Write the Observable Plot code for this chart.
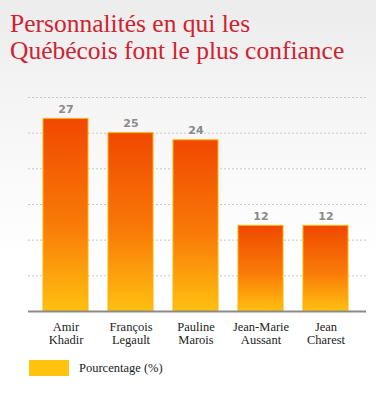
<!DOCTYPE html>
<html>
<head>
<meta charset="utf-8">
<script src="https://cdn.jsdelivr.net/npm/d3@7"></script>
<script src="https://cdn.jsdelivr.net/npm/@observablehq/plot@0.6"></script>
<style>
  html, body { margin: 0; padding: 0; }
  body { width: 376px; height: 404px; position: relative; overflow: hidden;
         background: linear-gradient(to bottom, #ececec 0px, #f6f6f6 120px, #ffffff 260px, #ffffff 404px); }
  #title { position: absolute; left: 10px; top: 10px; margin: 0;
           font-family: "Liberation Serif", serif; font-size: 25.5px; line-height: 27px;
           color: #cf2230; font-weight: normal; }
  #chart { position: absolute; left: 0; top: 70px; }
  #legend { position: absolute; left: 29px; top: 360px; display: flex; align-items: center;
            font-family: "Liberation Serif", serif; font-size: 12.5px; color: #222; }
  #legend .sw { width: 40px; height: 16px; background: #ffc20e; margin-right: 10px; }
</style>
</head>
<body>
<div id="title">Personnalités en qui les<br>Québécois font le plus confiance</div>
<div id="chart"></div>
<div id="legend"><div class="sw"></div><span>Pourcentage (%)</span></div>
<script>
const names = ["Amir Khadir", "François Legault", "Pauline Marois", "Jean-Marie Aussant", "Jean Charest"];
const labels = ["Amir\nKhadir", "François\nLegault", "Pauline\nMarois", "Jean-Marie\nAussant", "Jean\nCharest"];
const values = [27, 25, 24, 12, 12];
const gridTicks = [5, 10, 15, 20, 25, 30];

const data = names.map((n, i) => ({name: n, label: labels[i], value: values[i]}));

const chart = Plot.plot({
  width: 376,
  height: 290,
  marginTop: 27,
  marginBottom: 49,
  marginLeft: 28,
  marginRight: 10,
  style: {background: "transparent", overflow: "visible"},
  x: {domain: names, range: [42, 348], paddingInner: 0.31, paddingOuter: 0, axis: null},
  y: {domain: [0, 30], axis: null},
  marks: [
    Plot.ruleY(gridTicks, {stroke: "#c8c8c8", strokeDasharray: "2,2", strokeWidth: 1}),
    Plot.barY(data, {x: "name", y: "value", fill: "url(#barGrad)", stroke: "#ffb300", strokeWidth: 1}),
    Plot.ruleY([0], {stroke: "#8a8a8a", strokeWidth: 2}),
    Plot.text(data, {x: "name", y: "value", text: d => String(d.value), lineAnchor: "bottom", dy: -6,
      fill: "#8a8a8a", fontWeight: "bold", fontSize: 11, fontFamily: "DejaVu Sans, sans-serif"}),
    Plot.text(data, {x: "name", y: 0, text: "label", lineAnchor: "top", dy: 11, lineHeight: 1.0,
      fill: "#222", fontSize: 12.5, fontFamily: "Liberation Serif, serif"})
  ]
});

const defs = document.createElementNS("http://www.w3.org/2000/svg", "defs");
defs.innerHTML = `<linearGradient id="barGrad" x1="0" y1="0" x2="0" y2="1">
  <stop offset="0%" stop-color="#f04800"/>
  <stop offset="55%" stop-color="#f97a08"/>
  <stop offset="100%" stop-color="#ffc010"/>
</linearGradient>`;
chart.insertBefore(defs, chart.firstChild);
document.getElementById("chart").appendChild(chart);
</script>
</body>
</html>
